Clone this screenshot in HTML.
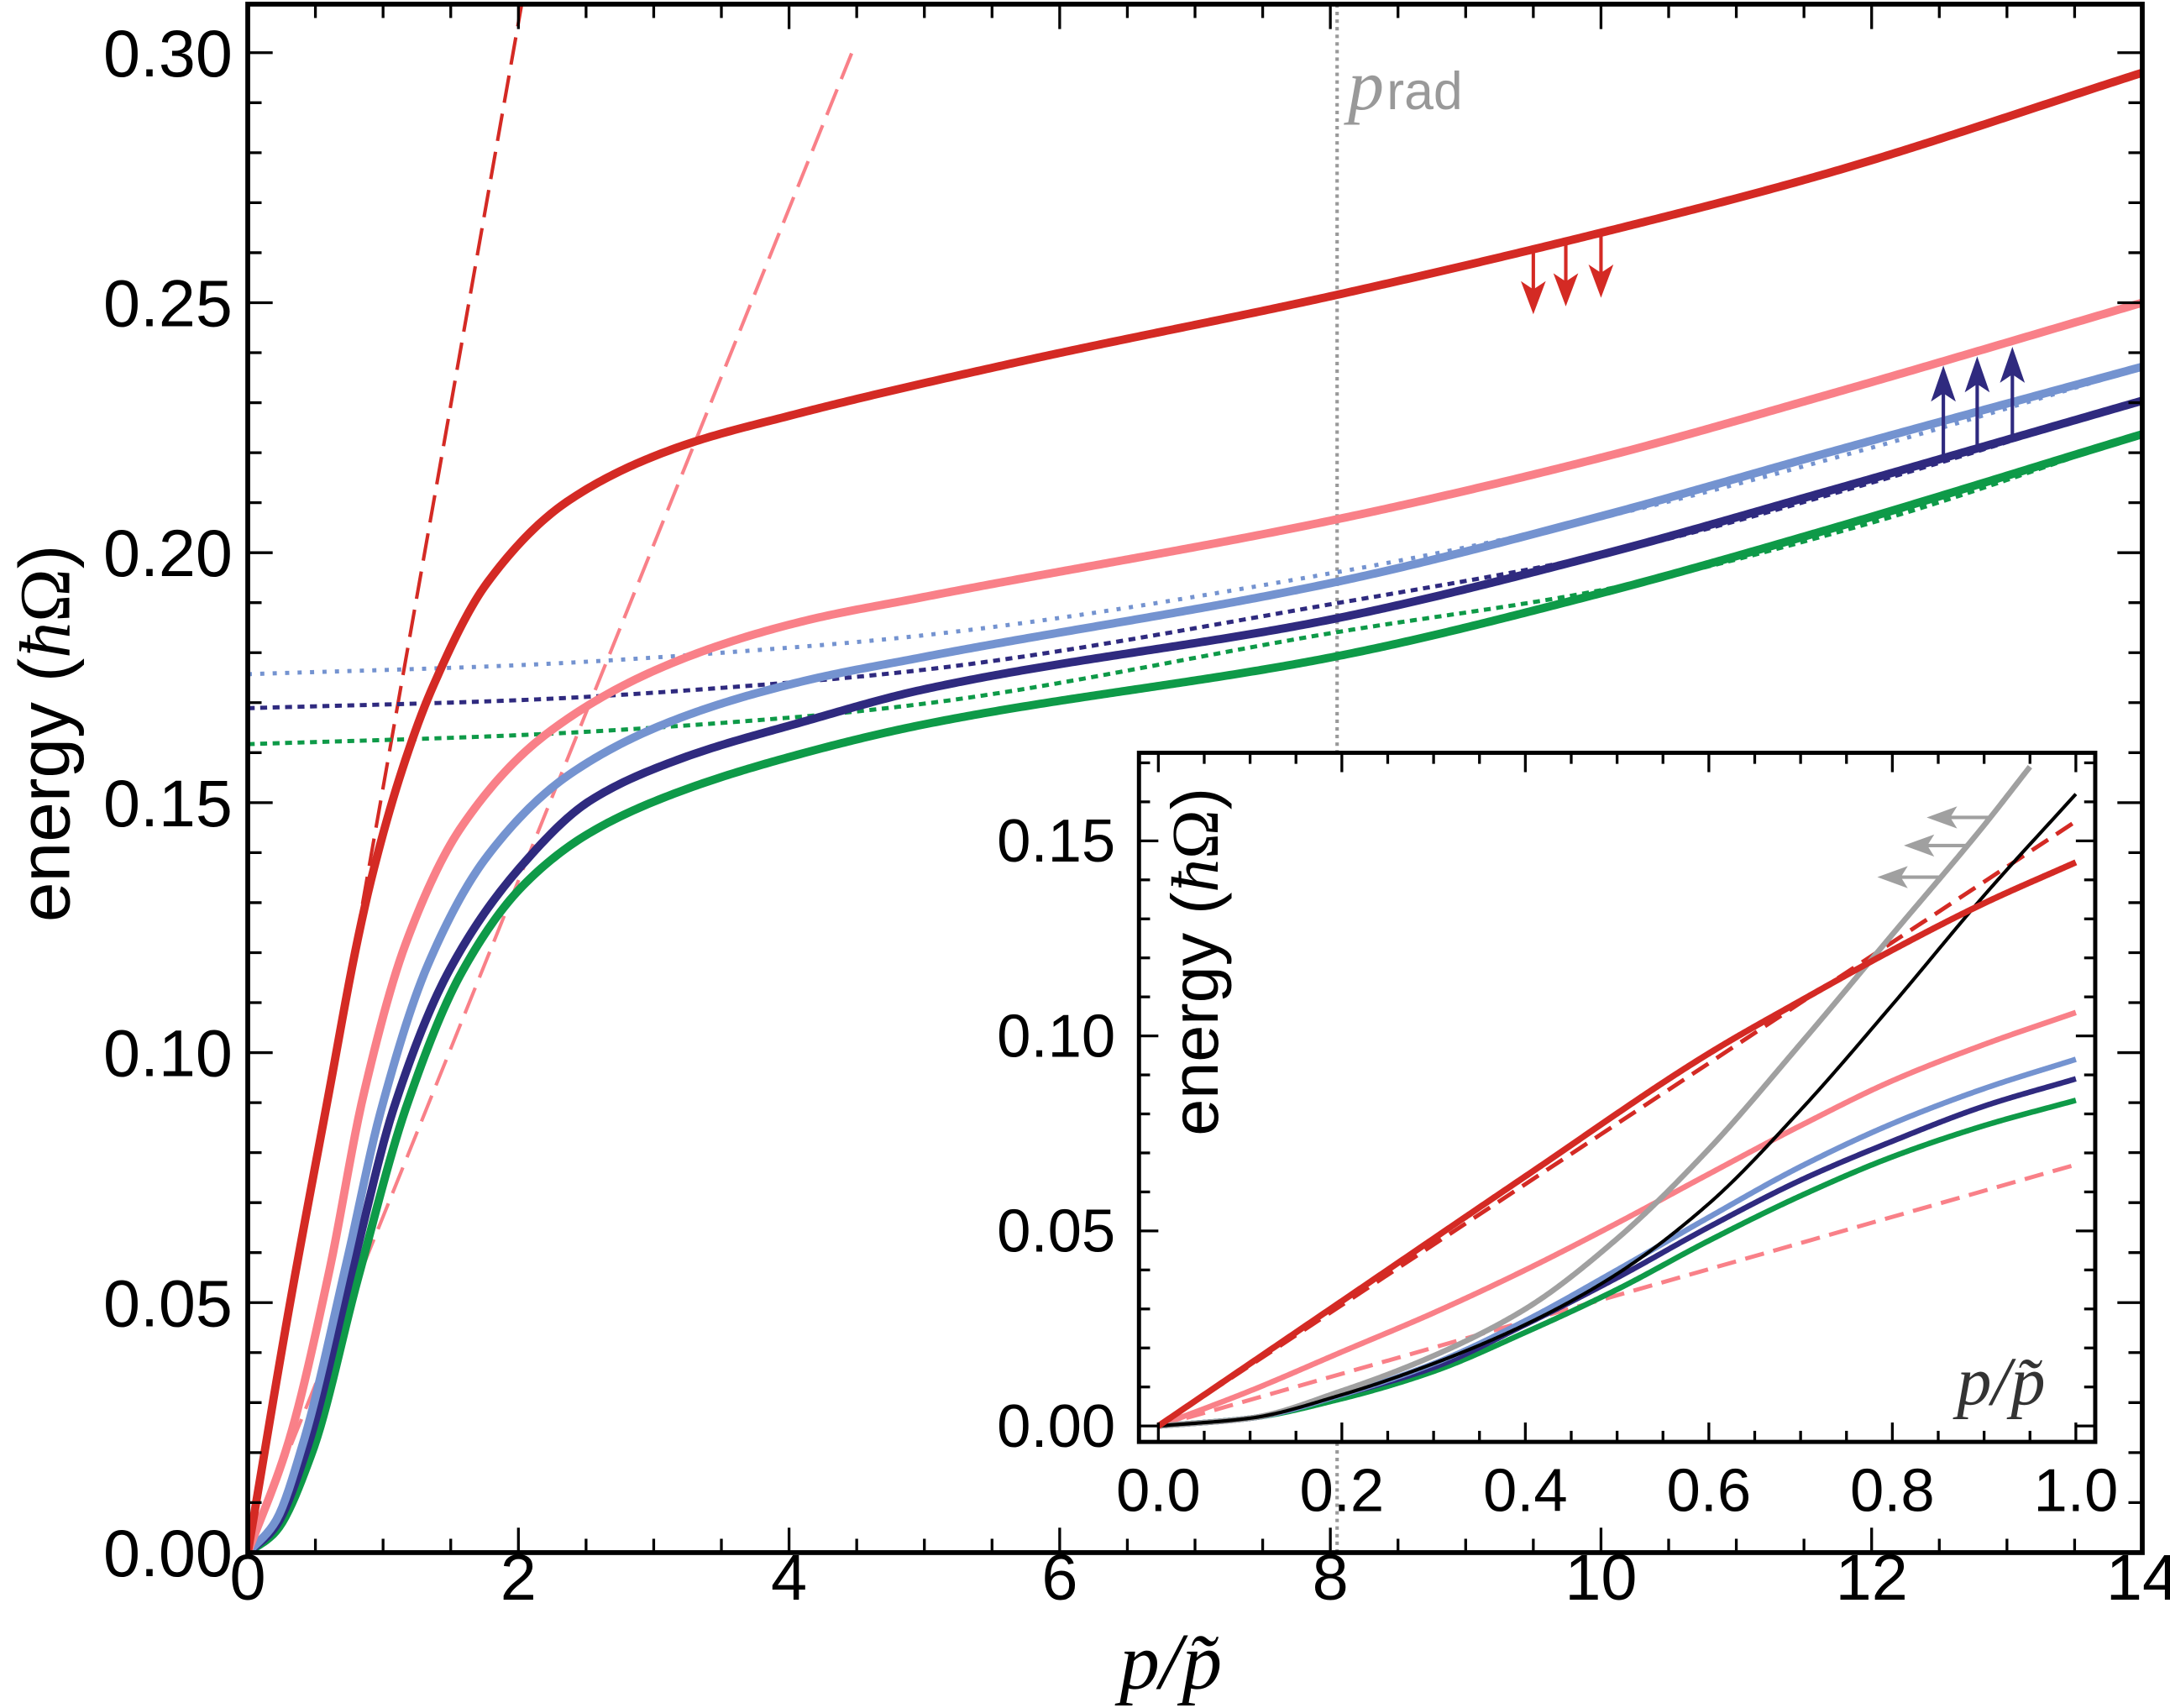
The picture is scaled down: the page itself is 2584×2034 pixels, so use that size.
<!DOCTYPE html>
<html><head><meta charset="utf-8"><style>
html,body{margin:0;padding:0;background:#fff;}
svg{display:block;}
</style></head><body>
<svg id="chart" width="2584" height="2034" viewBox="0 0 1568 1234.3" xmlns="http://www.w3.org/2000/svg" style="font-family:'Liberation Sans',sans-serif">
<g id="main"></g>
<g id="inset"></g>
</svg>
<script>
// ---------- main plot data ----------
const mainXTicks = [0,2,4,6,8,10,12,14];
const mainYTicks = [0.00,0.05,0.10,0.15,0.20,0.25,0.30];
const xRed = [0,0.3,0.6,0.8,0.92,1.14,1.36,1.77,2.37,3.17,4.02,5.62,8.07,10,11.65,14];
const eRed = [0,0.048,0.092,0.121,0.1355,0.1565,0.1727,0.194,0.2104,0.221,0.2275,0.2377,0.2517,0.264,0.2757,0.296];
const xPink = [0,0.3,0.6,0.855,1.17,1.58,2.22,3.17,4.12,4.97,8.07,10,11.65,14];
const ePink = [0,0.022,0.056,0.0915,0.122,0.1452,0.164,0.1783,0.1864,0.191,0.2068,0.219,0.2314,0.250];
const xLightBlue = [0,0.2,0.41,0.73,0.98,1.33,1.77,2.37,3.17,4.12,4.97,8.07,10,11.65,14];
const eLightBlue = [0,0.006,0.022,0.058,0.088,0.1175,0.1393,0.1555,0.1667,0.1744,0.179,0.1943,0.2073,0.2198,0.2372];
const xDarkBlue = [0,0.2,0.44,0.775,1.08,1.49,2.03,2.53,3.17,4.12,4.97,8.07,10,11.65,14];
const eDarkBlue = [0,0.005,0.021,0.057,0.089,0.1165,0.1376,0.1504,0.1585,0.1663,0.1725,0.187,0.1996,0.2121,0.2304];
const xGreen = [0,0.2,0.475,0.816,1.17,1.58,2.03,2.53,3.17,4.12,4.97,8.07,10,11.65,14];
const eGreen = [0,0.004,0.020,0.055,0.089,0.116,0.1333,0.144,0.152,0.160,0.1655,0.1794,0.1919,0.2044,0.2237];
const xDot = [0,2,4,4.97,8.07,10,12,14];
const eLightBlueDot = [0.1757,0.1775,0.181,0.1834,0.1962,0.207,0.221,0.237];
const eDarkBlueDot = [0.1689,0.1705,0.174,0.1765,0.190,0.1996,0.214,0.2305];
const eGreenDot = [0.1617,0.1635,0.167,0.1697,0.1842,0.1925,0.206,0.2237];
const redSlope = 0.153, pinkSlope = 0.0672;
const pRad = 8.05;
const redArrowX = [9.5,9.74,10.0];
const blueArrowX = [12.53,12.78,13.04];
// ---------- inset data ----------
const insetXTicks = [0.0,0.2,0.4,0.6,0.8,1.0];
const insetYTicks = [0.00,0.05,0.10,0.15];
const ixRed = [0,0.2,0.4,0.6,0.7,0.8,0.9,1.0];
const iRed = [0,0.032,0.064,0.0955,0.109,0.122,0.134,0.1445];
const ix = [0,0.1,0.2,0.3,0.4,0.5,0.6,0.7,0.8,0.9,1.0];
const iPink = [0,0.009,0.019,0.029,0.040,0.052,0.0646,0.077,0.0885,0.0978,0.106];
const iLightBlue = [0,0.002,0.008,0.016,0.027,0.040,0.0535,0.0665,0.0775,0.0865,0.094];
const iDarkBlue = [0,0.002,0.008,0.015,0.026,0.038,0.051,0.063,0.073,0.082,0.089];
const iGreen = [0,0.002,0.007,0.014,0.024,0.035,0.0475,0.059,0.069,0.077,0.0835];
const iBlack = [0,0.002,0.008,0.016,0.026,0.039,0.057,0.081,0.108,0.136,0.162];
const ixGray = [0,0.1,0.2,0.3,0.4,0.5,0.6,0.7,0.8,0.9,0.95];
const iGray = [0,0.002,0.009,0.018,0.030,0.048,0.071,0.098,0.126,0.154,0.169];
const iRedDashSlope = 0.155, iPinkDashSlope = 0.067;
const grayArrowE = [0.1407,0.1488,0.156];

const NS="http://www.w3.org/2000/svg";
function mk(parent,tag,attrs){const e=document.createElementNS(NS,tag);for(const k in attrs)e.setAttribute(k,attrs[k]);parent.appendChild(e);return e;}
function monoFn(xs,ys){
  const n=xs.length,h=[],d=[],m=new Array(n);
  for(let i=0;i<n-1;i++){h.push(xs[i+1]-xs[i]);d.push((ys[i+1]-ys[i])/h[i]);}
  m[0]=d[0];m[n-1]=d[n-2];
  for(let i=1;i<n-1;i++){ if(d[i-1]*d[i]<=0)m[i]=0; else { const w1=2*h[i]+h[i-1],w2=h[i]+2*h[i-1]; m[i]=(w1+w2)/(w1/d[i-1]+w2/d[i]); } }
  return x=>{let i=0;while(i<n-2&&x>xs[i+1])i++;const t=(x-xs[i])/h[i],t2=t*t,t3=t2*t;
    return (2*t3-3*t2+1)*ys[i]+(t3-2*t2+t)*h[i]*m[i]+(-2*t3+3*t2)*ys[i+1]+(t3-t2)*h[i]*m[i+1];};
}
function pathFrom(xs,ys,sx,sy){
  const f=monoFn(xs,ys);const a=xs[0],b=xs[xs.length-1];const N=600;let d='';
  for(let k=0;k<=N;k++){const x=a+(b-a)*k/N;d+=(k?'L':'M')+sx(x).toFixed(2)+','+sy(f(x)).toFixed(2);}
  return d;
}
function interp(xs,ys,x){return monoFn(xs,ys)(x);}

// ---------- main ----------
const M=document.getElementById('main');
const L=179,R=1548,T=3,B=1122;
const sx=x=>L+x*(R-L)/14;
const sy=e=>B-e*3613;
const clip=mk(document.getElementById('chart'),'clipPath',{id:'mclip'});
mk(clip,'rect',{x:L,y:T,width:R-L,height:B-T});
const g=mk(M,'g',{'clip-path':'url(#mclip)'});
let el=mk(g,'line',{x1:sx(pRad),x2:sx(pRad),y1:T,y2:B,stroke:'#999',"stroke-width":2.5,"stroke-dasharray":"2.5 3"});


el=mk(g,'line',{x1:sx(0),y1:sy(0),x2:sx(0.31/redSlope),y2:sy(0.31),stroke:'#d42a24',"stroke-width":2.5,"stroke-dasharray":"20 8"});


el=mk(g,'line',{x1:sx(0),y1:sy(0),x2:sx(0.301/pinkSlope),y2:sy(0.301),stroke:'#f98088',"stroke-width":2.5,"stroke-dasharray":"20 8"});


const dots=[[eLightBlueDot,'#7493d0','3 6','light-blue-dotted'],[eDarkBlueDot,'#2f2a7f','5 4','dark-blue-dotted'],[eGreenDot,'#0e9a48','5 4','green-dotted']];
dots.forEach(([ys,c,da,n])=>{el=mk(g,'path',{d:pathFrom(xDot,ys,sx,sy),fill:'none',stroke:c,"stroke-width":3,"stroke-dasharray":da});

});
const sol=[[xGreen,eGreen,'#0e9a48','green-curve'],[xDarkBlue,eDarkBlue,'#2f2a7f','dark-blue-curve'],[xLightBlue,eLightBlue,'#7493d0','light-blue-curve'],[xPink,ePink,'#f98088','pink-curve'],[xRed,eRed,'#d42a24','red-curve']];
sol.forEach(([xs,ys,c,n])=>{el=mk(g,'path',{d:pathFrom(xs,ys,sx,sy),fill:'none',stroke:c,"stroke-width":6,"stroke-linejoin":"round"});

});
redArrowX.forEach(x=>{const y0=sy(interp(xRed,eRed,x));const X=sx(x);
 el=mk(g,'g',{});
 
 
 mk(el,'line',{x1:X,y1:y0,x2:X,y2:y0+30,stroke:'#d42a24',"stroke-width":2.5});
 mk(el,'polygon',{points:`${X-9},${y0+23} ${X},${y0+29} ${X+9},${y0+23} ${X},${y0+47}`,fill:'#d42a24'});});
blueArrowX.forEach(x=>{const y0=sy(interp(xDarkBlue,eDarkBlue,x));const y1=sy(interp(xLightBlue,eLightBlue,x));const X=sx(x);
 el=mk(g,'g',{});
 
 
 mk(el,'line',{x1:X,y1:y0,x2:X,y2:y1-22,stroke:'#2f2a7f',"stroke-width":2.5});
 mk(el,'polygon',{points:`${X-9},${y1-14} ${X},${y1-20} ${X+9},${y1-14} ${X},${y1-40}`,fill:'#2f2a7f'});});
el=mk(M,'text',{x:974,y:79,fill:'#999','font-size':52,style:"font-family:'Liberation Serif',serif;font-style:italic"});


el.innerHTML='p<tspan style="font-family:\'Liberation Sans\',sans-serif;font-style:normal" font-size="38" dx="2">rad</tspan>';
el=mk(M,'rect',{x:L,y:T,width:R-L,height:B-T,fill:'none',stroke:'#000','stroke-width':3.5});


for(let i=0;i<=28;i++){const v=i*0.5;const X=sx(v);const maj=i%4===0;const len=maj?18:10;
 mk(M,'line',{x1:X,x2:X,y1:B,y2:B-len,stroke:'#000','stroke-width':2});
 mk(M,'line',{x1:X,x2:X,y1:T,y2:T+len,stroke:'#000','stroke-width':2});}
for(let i=0;i<=30;i++){const v=i*0.01;const Y=sy(v);const maj=i%5===0;const len=maj?18:10;
 mk(M,'line',{x1:L,x2:L+len,y1:Y,y2:Y,stroke:'#000','stroke-width':2});
 mk(M,'line',{x1:R,x2:R-len,y1:Y,y2:Y,stroke:'#000','stroke-width':2});}
mainXTicks.forEach(v=>{el=mk(M,'text',{x:sx(v),y:1156,'font-size':47,'text-anchor':'middle'});
 
 
 el.textContent=v;});
mainYTicks.forEach(v=>{el=mk(M,'text',{x:168,y:sy(v)+17,'font-size':48,'text-anchor':'end'});
 
 
 el.textContent=v.toFixed(2);});
el=mk(M,'text',{x:50,y:530,'font-size':52,'text-anchor':'middle',transform:'rotate(-90 50 530)'});


el.innerHTML='energy (<tspan style="font-family:\'Liberation Serif\',serif;font-style:italic">ħ</tspan><tspan style="font-family:\'Liberation Serif\',serif">Ω</tspan>)';
el=mk(M,'text',{x:846,y:1220,'font-size':58,'text-anchor':'middle',style:"font-family:'Liberation Serif',serif;font-style:italic"});


el.textContent='p/p\u0303';

// ---------- inset ----------
const I=document.getElementById('inset');
const iL=823,iR=1514,iT=544,iB=1042;
const isx=x=>837+x*663;
const isy=e=>1030.5-e*2819;
el=mk(I,'rect',{x:iL,y:iT,width:iR-iL,height:iB-iT,fill:'#fff',stroke:'none'});


const clip2=mk(document.getElementById('chart'),'clipPath',{id:'iclip'});
mk(clip2,'rect',{x:iL,y:iT,width:iR-iL,height:iB-iT});
const ig=mk(I,'g',{'clip-path':'url(#iclip)'});
el=mk(ig,'line',{x1:isx(0),y1:isy(0),x2:isx(1),y2:isy(iPinkDashSlope),stroke:'#f98088','stroke-width':3,'stroke-dasharray':'14 7'});


el=mk(ig,'line',{x1:isx(0),y1:isy(0),x2:isx(1),y2:isy(iRedDashSlope),stroke:'#d42a24','stroke-width':3,'stroke-dasharray':'14 7'});


const isol=[[ix,iGreen,'#0e9a48',4,'inset-green-curve'],[ix,iDarkBlue,'#2f2a7f',4,'inset-dark-blue-curve'],[ix,iLightBlue,'#7493d0',4,'inset-light-blue-curve'],[ix,iPink,'#f98088',4,'inset-pink-curve'],[ixGray,iGray,'#a0a0a0',4,'inset-gray-curve'],[ix,iBlack,'#000',2.5,'inset-black-curve'],[ixRed,iRed,'#d42a24',4.5,'inset-red-curve']];
isol.forEach(([xs,ys,c,w,n])=>{el=mk(ig,'path',{d:pathFrom(xs,ys,isx,isy),fill:'none',stroke:c,'stroke-width':w,'stroke-linejoin':'round'});

});
const gf=monoFn(ixGray,iGray);
grayArrowE.forEach(e=>{let lo=0.5,hi=0.95;for(let k=0;k<40;k++){const m=(lo+hi)/2;if(gf(m)<e)lo=m;else hi=m;} const X=isx(lo),Y=isy(e);
 el=mk(ig,'g',{});
 
 
 mk(el,'line',{x1:X,y1:Y,x2:X-30,y2:Y,stroke:'#a0a0a0','stroke-width':2.5});
 mk(el,'polygon',{points:`${X-24},${Y-8} ${X-29},${Y} ${X-24},${Y+8} ${X-46},${Y}`,fill:'#a0a0a0'});});
el=mk(I,'rect',{x:iL,y:iT,width:iR-iL,height:iB-iT,fill:'none',stroke:'#000','stroke-width':3});


for(let i=0;i<=20;i++){const v=i*0.05;const X=isx(v);const maj=i%4===0;const len=maj?14:8;
 mk(I,'line',{x1:X,x2:X,y1:iB,y2:iB-len,stroke:'#000','stroke-width':2});
 mk(I,'line',{x1:X,x2:X,y1:iT,y2:iT+len,stroke:'#000','stroke-width':2});}
for(let i=0;i<=17;i++){const v=i*0.01;const Y=isy(v);const maj=i%5===0;const len=maj?14:8;
 mk(I,'line',{x1:iL,x2:iL+len,y1:Y,y2:Y,stroke:'#000','stroke-width':2});
 mk(I,'line',{x1:iR,x2:iR-len,y1:Y,y2:Y,stroke:'#000','stroke-width':2});}
insetXTicks.forEach(v=>{el=mk(I,'text',{x:isx(v),y:1092,'font-size':44,'text-anchor':'middle'});
 
 
 el.textContent=v.toFixed(1);});
insetYTicks.forEach(v=>{el=mk(I,'text',{x:806,y:isy(v)+15,'font-size':44,'text-anchor':'end'});
 
 
 el.textContent=v.toFixed(2);});
el=mk(I,'text',{x:880,y:695,'font-size':48,'text-anchor':'middle',transform:'rotate(-90 880 695)'});


el.innerHTML='energy (<tspan style="font-family:\'Liberation Serif\',serif;font-style:italic">ħ</tspan><tspan style="font-family:\'Liberation Serif\',serif">Ω</tspan>)';
el=mk(I,'text',{x:1446,y:1015,'font-size':50,'text-anchor':'middle',fill:'#333',style:"font-family:'Liberation Serif',serif;font-style:italic"});


el.textContent='p/p\u0303';
</script>
</body></html>
